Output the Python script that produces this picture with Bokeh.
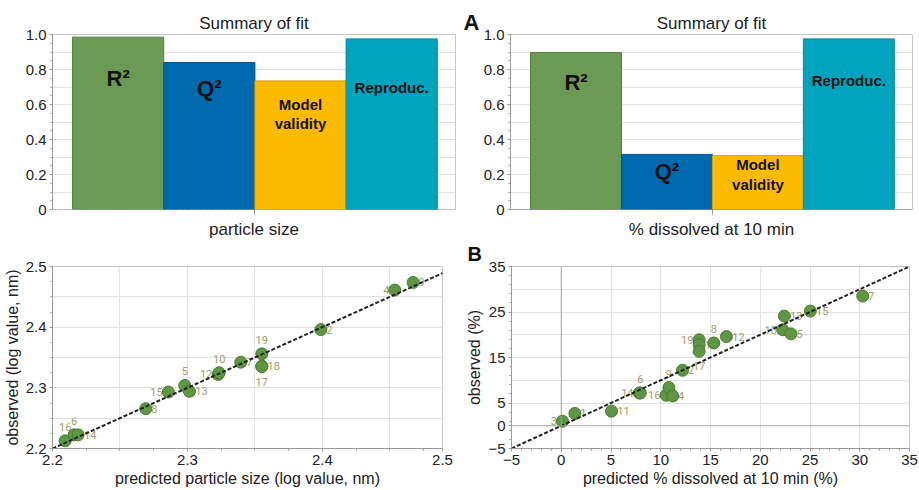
from bokeh.plotting import figure
from bokeh.layouts import row, column
from bokeh.models import (ColumnDataSource, FixedTicker, Span, Range1d, LinearAxis, Title)
from bokeh.core.properties import value
from bokeh.embed import file_html
from bokeh.resources import INLINE

# ---------------- data ----------------
metrics = ["R²", "Q²", "Model\nvalidity", "Reproduc."]
fit_particle = [0.985, 0.840, 0.735, 0.975]
fit_dissolved = [0.897, 0.315, 0.308, 0.975]
fit_response_names = ["particle size", "% dissolved at 10 min"]
fit_ticks = [0, 0.2, 0.4, 0.6, 0.8, 1.0]

# particle size: observed vs predicted (log value, nm)
ps_ids = ["16", "6", "14", "8", "15", "5", "13", "12", "10", "7", "19", "18", "17", "2", "4", "9"]
ps_pred = [2.2094, 2.2160, 2.2190, 2.2691, 2.2859, 2.2980, 2.3015, 2.3227, 2.3235,
           2.3395, 2.3551, 2.3551, 2.3551, 2.3988, 2.4536, 2.4672]
ps_obs = [2.2126, 2.2225, 2.2225, 2.2657, 2.2931, 2.3040, 2.2942, 2.3220, 2.3248,
          2.3423, 2.3560, 2.3357, 2.3350, 2.3960, 2.4612, 2.4737]
ps_label_side = ["a", "a", "r", "r", "l", "a", "r", "l", "a", "r", "a", "r", "b", "r", "l", "r"]
ps_ticks = [2.2, 2.3, 2.4, 2.5]

# % dissolved at 10 min: observed vs predicted (%)
dis_ids = ["3", "1", "11", "14", "6", "16", "9", "4", "2", "19", "18", "17", "8", "12",
           "10", "13", "5", "15", "7"]
dis_pred = [0.12, 1.37, 5.05, 7.85, 7.95, 10.55, 10.82, 11.20, 12.19, 13.86, 13.86, 13.86,
            15.33, 16.60, 22.26, 22.42, 23.09, 25.03, 30.30]
dis_obs = [1.0, 2.7, 3.2, 7.2, 7.2, 6.7, 8.4, 6.55, 12.2, 18.9, 17.8, 16.35, 18.2, 19.6,
           21.1, 24.1, 20.2, 25.2, 28.5]
dis_label_side = ["l", "r", "r", "l", "a", "l", "a", "r", "r", "l", "r", "b", "a", "r",
                  "l", "r", "r", "r", "r"]
dis_xticks = [-5, 0, 5, 10, 15, 20, 25, 30, 35]
dis_yticks = [-5, 0, 5, 15, 25, 35]
panel_letters = ["A", "B"]

# ---------------- styles ----------------
FONT = "Liberation Sans"
bar_fill = ["#6a9a53", "#0068ad", "#fdbb00", "#00a3be"]
bar_line = ["#55803f", "#00558f", "#d9a000", "#00889f"]
GRID = "#e2e2e2"
OUTLINE = "#c4c4c4"
AXIS = "#9a9a9a"
PT_FILL = "#5e9643"
PT_LINE = "#4b7c34"
LAB_COL = "#a29c6d"


def base_axes(p):
    p.outline_line_color = OUTLINE
    p.background_fill_color = "white"
    p.border_fill_color = "white"
    for ax in p.axis:
        ax.axis_line_color = AXIS
        ax.major_tick_line_color = AXIS
        ax.minor_tick_line_color = AXIS
        ax.major_tick_in = 0
        ax.major_tick_out = 3
        ax.minor_tick_in = 0
        ax.minor_tick_out = 2
        ax.major_label_text_font = FONT
        ax.major_label_text_font_size = "15px"
        ax.major_label_text_color = "#222222"
        ax.axis_label_text_font = FONT
        ax.axis_label_text_font_size = "16px"
        ax.axis_label_text_font_style = "normal"
        ax.axis_label_text_color = "#222222"
        ax.major_label_standoff = 3
        ax.axis_label_standoff = 2


def fit_chart(values, name, width, left, right, label_y, with_dotted):
    pos = [i + 0.5 for i in range(len(values))]
    p = figure(width=width, height=241, x_range=Range1d(-0.22, 4.2), y_range=Range1d(0, 1),
               output_backend="svg", toolbar_location=None,
               min_border_left=left, min_border_right=right,
               min_border_top=34, min_border_bottom=25)
    p.title.text = "Summary of fit"
    p.title.align = "center"
    p.title.text_font = FONT
    p.title.text_font_size = "17px"
    p.title.text_font_style = "normal"
    p.title.text_color = "#222222"
    p.title.standoff = 4
    src = ColumnDataSource(dict(x=pos, top=values, fill=bar_fill, line=bar_line))
    p.vbar(x="x", top="top", width=1.0, bottom=0, fill_color="fill", line_color="line",
           line_width=1, source=src)
    fs = ["22px", "22px", "15px", "15px"]
    tsrc = ColumnDataSource(dict(x=pos, y=label_y, t=metrics, fs=fs))
    p.text(x="x", y="y", text="t", source=tsrc, text_font=value(FONT), text_font_style="bold",
           text_font_size="fs", text_align="center", text_baseline="middle",
           text_color="#111111", text_line_height=1.15)
    p.xgrid.visible = False
    p.ygrid.ticker = FixedTicker(ticks=[round(0.1 * i, 1) for i in range(1, 10)])
    p.ygrid.grid_line_color = GRID
    base_axes(p)
    p.yaxis.ticker = FixedTicker(ticks=fit_ticks,
                                 minor_ticks=[round(0.05 * i, 2) for i in range(21)])
    p.yaxis.major_label_overrides = {0: "0", 1: "1.0"}
    p.xaxis.ticker = FixedTicker(ticks=[2.0])
    p.xaxis.axis_line_color = None
    p.xaxis.major_label_text_font_size = "1px"
    p.xaxis.major_tick_out = 5
    p.xaxis.major_label_standoff = 0
    p.xaxis.axis_label = name
    p.xaxis.axis_label_text_font_size = "17px"
    p.xaxis.axis_label_standoff = 1
    if with_dotted:
        p.add_layout(Span(location=0, dimension="width", line_color="#6f9be0",
                          line_dash="dotted", line_width=1))
    else:
        p.add_layout(Span(location=0, dimension="width", line_color="#8a8a8a", line_width=1))
    return p


def offsets(ids, sides):
    dx, dy = [], []
    for t, s in zip(ids, sides):
        w = 5 + 3.5 * len(t)
        if s == "r":
            dx.append(w); dy.append(0)
        elif s == "l":
            dx.append(-w); dy.append(0)
        elif s == "a":
            dx.append(0); dy.append(-14)
        else:
            dx.append(0); dy.append(15)
    return dx, dy


def scatter_points(p, xs, ys, ids, sides):
    dx, dy = offsets(ids, sides)
    src = ColumnDataSource(dict(x=xs, y=ys, t=ids, dx=dx, dy=dy))
    p.text(x="x", y="y", text="t", x_offset="dx", y_offset="dy", source=src,
           text_font=value("Roboto"), text_font_size="11px", text_color=LAB_COL,
           text_align="center", text_baseline="middle")
    p.scatter(x="x", y="y", source=src, size=12, fill_color=PT_FILL, line_color=PT_LINE,
              line_width=1)


# ---------------- top row ----------------
tl = fit_chart(fit_particle, fit_response_names[0], 460, 52, 5,
               [0.75, 0.69, 0.545, 0.70], True)
tr = fit_chart(fit_dissolved, fit_response_names[1], 459, 50, 7,
               [0.725, 0.22, 0.20, 0.735], False)
# panel letter "A": an outer left axis with a single labelled tick at the top
letter_axis = LinearAxis(ticker=FixedTicker(ticks=[1.0]),
                         major_label_overrides={1: panel_letters[0] + "\n "},
                         axis_line_color=None, major_tick_line_color=None,
                         minor_tick_line_color=None,
                         major_tick_in=0, major_tick_out=0, minor_tick_in=0, minor_tick_out=0,
                         major_label_standoff=1,
                         major_label_text_font=FONT, major_label_text_font_style="bold",
                         major_label_text_font_size="22px", major_label_text_color="#111111",
                         major_label_text_line_height=1.0)
tr.add_layout(letter_axis, "left")

# ---------------- bottom left ----------------
ps_axis_end = 2.489
bl = figure(width=460, height=249, x_range=Range1d(ps_ticks[0], ps_axis_end),
            y_range=Range1d(ps_ticks[0], ps_ticks[-1]),
            output_backend="svg", toolbar_location=None,
            min_border_left=52, min_border_right=18, min_border_top=25, min_border_bottom=42)
base_axes(bl)
bl.xaxis.ticker = FixedTicker(ticks=ps_ticks[:-1] + [ps_axis_end],
                              minor_ticks=[2.2 + 0.025 * i for i in range(12)])
bl.xaxis.major_label_overrides = {ps_axis_end: "2.5"}
bl.yaxis.ticker = FixedTicker(ticks=ps_ticks, minor_ticks=[2.2 + 0.025 * i for i in range(13)])
gridv = [2.25, 2.3, 2.35, 2.4, 2.45]
bl.xgrid.ticker = FixedTicker(ticks=gridv)
bl.ygrid.ticker = FixedTicker(ticks=gridv)
bl.xgrid.grid_line_color = GRID
bl.ygrid.grid_line_color = GRID
bl.xaxis.axis_label = "predicted particle size (log value, nm)"
bl.yaxis.axis_label = "observed (log value, nm)"
scatter_points(bl, ps_pred, ps_obs, ps_ids, ps_label_side)
bl.line(x=[ps_ticks[0], ps_axis_end], y=[ps_ticks[0], ps_axis_end], line_color="#222222",
        line_width=2, line_dash="4 2")

# ---------------- bottom right ----------------
br = figure(width=459, height=249, x_range=Range1d(dis_xticks[0], dis_xticks[-1]),
            y_range=Range1d(dis_yticks[0], dis_yticks[-1]),
            output_backend="svg", toolbar_location=None,
            min_border_left=51, min_border_right=10, min_border_top=25, min_border_bottom=42)
base_axes(br)
br.xaxis.ticker = FixedTicker(ticks=dis_xticks, minor_ticks=list(range(-5, 36)))
br.yaxis.ticker = FixedTicker(ticks=dis_yticks, minor_ticks=list(range(-5, 36, 2)))
br.xgrid.ticker = FixedTicker(ticks=list(range(5, 35, 5)))
br.ygrid.ticker = FixedTicker(ticks=list(range(5, 35, 5)))
br.xgrid.grid_line_color = GRID
br.ygrid.grid_line_color = GRID
br.add_layout(Span(location=0, dimension="width", line_color="#a0a0a0", line_width=1))
br.add_layout(Span(location=0, dimension="height", line_color="#a0a0a0", line_width=1))
br.xaxis.axis_label = "predicted % dissolved at 10 min (%)"
br.yaxis.axis_label = "observed (%)"
scatter_points(br, dis_pred, dis_obs, dis_ids, dis_label_side)
br.line(x=[dis_xticks[0], dis_xticks[-1]], y=[dis_yticks[0], dis_yticks[-1]],
        line_color="#222222", line_width=2, line_dash="4 2")
# panel letter "B": a title shifted left of the frame
br.add_layout(Title(text=panel_letters[1], align="left", offset=-44, standoff=0,
                    vertical_align="top", text_font=FONT, text_font_style="bold",
                    text_font_size="20px", text_color="#111111"), "above")

layout = column(row(tl, tr), row(bl, br))
open("out.html", "w").write(file_html(layout, INLINE))
